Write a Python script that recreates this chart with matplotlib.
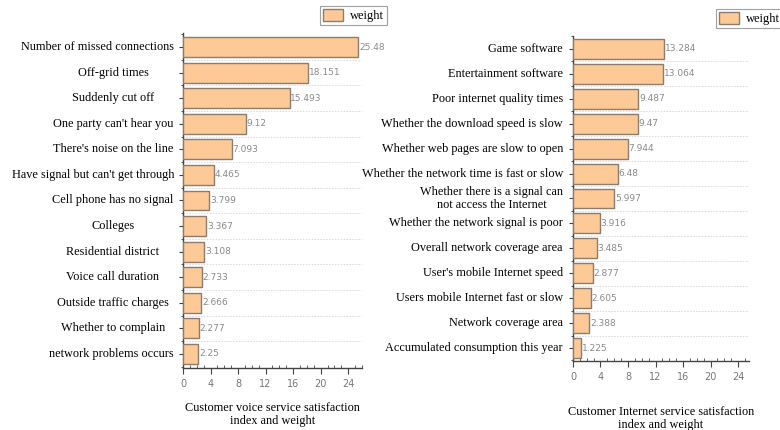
import numpy as np
import matplotlib
matplotlib.use("Agg")
import matplotlib.pyplot as plt
from matplotlib.patches import Patch
from matplotlib.ticker import MultipleLocator, FixedLocator

# voice service indicators (top to bottom)
voice_labels = [
    "Number of missed connections", "Off-grid times", "Suddenly cut off",
    "One party can't hear you", "There's noise on the line",
    "Have signal but can't get through", "Cell phone has no signal",
    "Colleges", "Residential district", "Voice call duration",
    "Outside traffic charges", "Whether to complain", "network problems occurs",
]
voice_weights = [25.48, 18.151, 15.493, 9.12, 7.093, 4.465, 3.799,
                 3.367, 3.108, 2.733, 2.666, 2.277, 2.25]

# internet service indicators (top to bottom)
net_labels = [
    "Game software", "Entertainment software", "Poor internet quality times",
    "Whether the download speed is slow", "Whether web pages are slow to open",
    "Whether the network time is fast or slow",
    "Whether there is a signal can\nnot access the Internet",
    "Whether the network signal is poor", "Overall network coverage area",
    "User's mobile Internet speed", "Users mobile Internet fast or slow",
    "Network coverage area", "Accumulated consumption this year",
]
net_weights = [13.284, 13.064, 9.487, 9.47, 7.944, 6.48, 5.997,
               3.916, 3.485, 2.877, 2.605, 2.388, 1.225]

xticks = [0, 4, 8, 12, 16, 20, 24]

BAR = "#fdc997"
EDGE = "#8c7c6c"
SERIF = ["Liberation Serif", "DejaVu Serif"]
NARROW = ["Liberation Sans Narrow", "DejaVu Sans"]

plt.rcParams["font.family"] = SERIF

fig = plt.figure(figsize=(7.8, 4.3), dpi=100)
ax1 = fig.add_axes([0.2346, 0.1442, 0.2295, 0.7791])
ax2 = fig.add_axes([0.7346, 0.1605, 0.2257, 0.7558])


def draw_panel(ax, labels, values, xmax, ylim, height):
    y = np.arange(len(values))
    ax.barh(y, values, height=height, color=BAR, edgecolor=EDGE, linewidth=1.0, zorder=3)
    for yi, v in zip(y, values):
        ax.text(v + 0.1, yi, f"{v:g}", va="center", ha="left", fontsize=6.5,
                color="#8a8a8a", family=NARROW, zorder=4)
    ax.set_xlim(0, xmax)
    ax.set_ylim(*ylim)
    ax.set_xticks(xticks)
    ax.xaxis.set_minor_locator(MultipleLocator(1))
    ax.set_xticklabels([str(t) for t in xticks], fontsize=7, color="#777777", family=NARROW)
    ax.set_yticks(y)
    ax.set_yticklabels([])
    bounds = np.arange(len(values) + 1) - 0.5
    ax.yaxis.set_minor_locator(FixedLocator(bounds))
    for b in bounds[1:-1]:
        ax.axhline(b, color="#d8d8d8", lw=0.7, ls=(0, (1.5, 1.5)), zorder=1)
    for s in ("top", "right"):
        ax.spines[s].set_visible(False)
    for s in ("left", "bottom"):
        ax.spines[s].set_color("#444444")
        ax.spines[s].set_linewidth(1.0)
    ax.tick_params(axis="x", which="major", direction="out", length=4, color="#444444", pad=4)
    ax.tick_params(axis="x", which="minor", direction="in", length=2.5, color="#444444")
    ax.tick_params(axis="y", which="major", direction="out", length=3, color="#444444")
    ax.tick_params(axis="y", which="minor", direction="out", length=1.5, color="#444444")
    return y


y1 = draw_panel(ax1, voice_labels, voice_weights, 26.0, (12.55, -0.55), 0.78)
y2 = draw_panel(ax2, net_labels, net_weights, 25.6, (12.52, -0.52), 0.8)

# category labels
fs = 8.8
fig.canvas.draw()
r = fig.canvas.get_renderer()
# left panel: centered around a column, pushed left if too long
center_px = 113
right_lim_px = 174
for yi, lab in zip(y1, voice_labels):
    t = ax1.text(0, yi, lab, fontsize=fs, va="center", ha="center",
                 transform=ax1.get_yaxis_transform())
    bb = t.get_window_extent(r)
    half = bb.width / 2
    cx = min(center_px, right_lim_px - half)
    t.set_x((cx - ax1.bbox.x0) / ax1.bbox.width)
# right panel: right aligned, multi-line centered
for yi, lab in zip(y2, net_labels):
    ax2.text(-10 / ax2.bbox.width, yi, lab, fontsize=fs, va="center", ha="right",
             multialignment="center", linespacing=1.1,
             transform=ax2.get_yaxis_transform())

ax1.set_xlabel("Customer voice service satisfaction\nindex and weight", fontsize=fs,
               labelpad=9, linespacing=1.15)
ax2.set_xlabel("Customer Internet service satisfaction\nindex and weight", fontsize=fs,
               labelpad=17, linespacing=1.15)

handle = Patch(facecolor=BAR, edgecolor=EDGE, linewidth=1.0)
for anchor in ((320 / 780, 1 - 6 / 430), (716 / 780, 1 - 9 / 430)):
    leg = fig.legend([handle], ["weight"], loc="upper left", bbox_to_anchor=anchor,
                     fontsize=9, frameon=True, fancybox=False, handlelength=1.6,
                     handleheight=1.2, borderpad=0.2, handletextpad=0.6,
                     borderaxespad=0)
    leg.get_frame().set_edgecolor("#888888")
    leg.get_frame().set_linewidth(0.8)

fig.savefig("out.png", dpi=100)
